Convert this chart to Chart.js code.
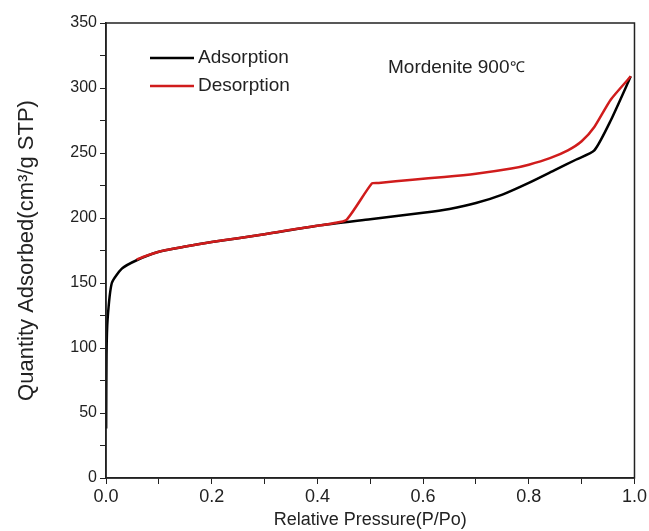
<!DOCTYPE html>
<html>
<head>
<meta charset="utf-8">
<script src="https://cdn.jsdelivr.net/npm/chart.js@4/dist/chart.umd.min.js"></script>
<style>
  html, body { margin: 0; padding: 0; background: #fff; }
  #wrap { width: 649px; height: 531px; }
</style>
</head>
<body>
<div id="wrap"><canvas id="iso"></canvas></div>
<script>
// relative pressure (P/Po) and quantity adsorbed (cm3/g STP)
var adsP = [0.0003, 0.001, 0.003, 0.011, 0.03, 0.058, 0.1, 0.15, 0.2, 0.3, 0.4, 0.5, 0.6, 0.65, 0.7, 0.75, 0.8, 0.85, 0.89, 0.924, 0.955, 0.993];
var adsQ = [38, 95, 122, 150, 161, 167.5, 174, 178, 181.5, 187.5, 194, 199, 204, 207, 211.5, 218, 227, 237, 245, 252, 275, 309];
var desP = [0.993, 0.955, 0.924, 0.90, 0.874, 0.84, 0.80, 0.767, 0.70, 0.64, 0.58, 0.516, 0.503, 0.455, 0.43, 0.40, 0.35, 0.30, 0.25, 0.20, 0.15, 0.10, 0.07, 0.058];
var desQ = [309, 291, 270, 259, 252, 246, 241, 238, 234, 231.5, 229.5, 227, 226.5, 198.5, 196, 194, 191, 187.5, 184.5, 181.5, 178, 174, 170, 168];

var xTicks = [0, 0.2, 0.4, 0.6, 0.8, 1.0];
var yTicks = [0, 50, 100, 150, 200, 250, 300, 350];

var FONT = '"Liberation Sans", Arial, sans-serif';

function toXY(xs, ys) {
  return xs.map(function (x, i) { return { x: x, y: ys[i] }; });
}

var frameAndLabels = {
  id: 'frameAndLabels',
  afterDraw: function (chart) {
    var ctx = chart.ctx, a = chart.chartArea;
    ctx.save();
    ctx.strokeStyle = '#222';
    ctx.lineWidth = 1.5;
    ctx.strokeRect(a.left, a.top, a.right - a.left, a.bottom - a.top);

    // legend
    ctx.lineWidth = 2.5;
    ctx.strokeStyle = '#000';
    ctx.beginPath(); ctx.moveTo(150, 58); ctx.lineTo(194, 58); ctx.stroke();
    ctx.strokeStyle = '#d01c1c';
    ctx.beginPath(); ctx.moveTo(150, 86); ctx.lineTo(194, 86); ctx.stroke();
    ctx.fillStyle = '#222';
    ctx.font = '19px ' + FONT;
    ctx.textBaseline = 'middle';
    ctx.fillText('Adsorption', 198, 58);
    ctx.fillText('Desorption', 198, 86);
    ctx.font = '19px ' + FONT;
    var t = 'Mordenite 900';
    ctx.fillText(t, 388, 68);
    var w = ctx.measureText(t).width;
    ctx.font = '15px ' + FONT;
    ctx.fillText('\u2103', 389 + w, 68);
    ctx.restore();
  }
};

new Chart(document.getElementById('iso'), {
  type: 'line',
  data: {
    datasets: [{
      label: 'Desorption',
      data: toXY(desP, desQ),
      borderColor: '#d01c1c',
      borderWidth: 2.5,
      pointRadius: 0,
      tension: 0.2,
      order: 0
    }, {
      label: 'Adsorption',
      data: toXY(adsP, adsQ),
      borderColor: '#000',
      borderWidth: 2.5,
      pointRadius: 0,
      tension: 0.2,
      order: 1
    }]
  },
  options: {
    responsive: true,
    maintainAspectRatio: false,
    animation: false,
    layout: { padding: { top: 23, right: 12, left: 0, bottom: 0 } },
    plugins: { legend: { display: false }, tooltip: { enabled: false } },
    scales: {
      x: {
        type: 'linear',
        min: 0, max: 1,
        afterBuildTicks: function (s) {
          s.ticks = [0, 0.1, 0.2, 0.3, 0.4, 0.5, 0.6, 0.7, 0.8, 0.9, 1.0].map(function (v) { return { value: v }; });
        },
        afterFit: function (s) { s.height = 53; },
        grid: { drawOnChartArea: false, tickLength: 6, color: '#222' },
        border: { color: '#222', width: 1.5 },
        ticks: {
          color: '#222',
          font: { size: 18, family: FONT },
          padding: 2,
          maxRotation: 0,
          autoSkip: false,
          callback: function (v) {
            var r = Math.round(v * 10);
            return r % 2 === 0 ? (r / 10).toFixed(1) : '';
          }
        },
        title: {
          display: true,
          text: 'Relative Pressure(P/Po)',
          color: '#222',
          font: { size: 18, family: FONT },
          padding: { top: 0, bottom: 0 }
        }
      },
      y: {
        type: 'linear',
        min: 0, max: 350,
        afterBuildTicks: function (s) {
          var t = [];
          for (var v = 0; v <= 350; v += 25) t.push({ value: v });
          s.ticks = t;
        },
        afterFit: function (s) { s.width = 106; },
        grid: { drawOnChartArea: false, tickLength: 6, color: '#222' },
        border: { color: '#222', width: 1.5 },
        ticks: {
          color: '#222',
          font: { size: 16, family: FONT },
          padding: 3,
          autoSkip: false,
          callback: function (v) {
            return yTicks.indexOf(v) >= 0 ? String(v) : '';
          }
        },
        title: {
          display: true,
          text: 'Quantity Adsorbed(cm\u00b3/g STP)',
          color: '#222',
          font: { size: 22, family: FONT },
          padding: { top: 14, bottom: 4 }
        }
      }
    }
  },
  plugins: [frameAndLabels]
});
</script>
</body>
</html>
